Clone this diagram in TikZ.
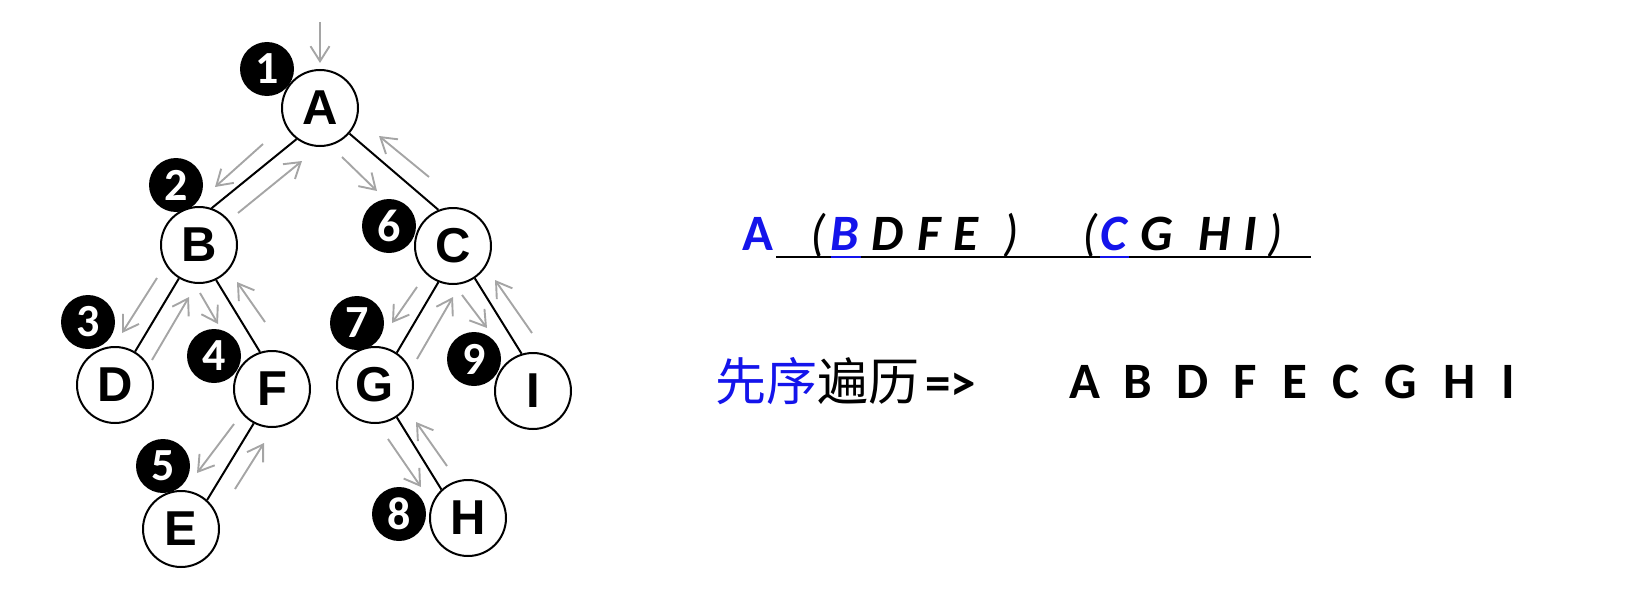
\documentclass[tikz,border=0pt]{standalone}
\usepackage{fontspec}
\setmainfont{Liberation Sans}
\newfontfamily\calib{Carlito}
\newfontfamily\cjk{Noto Sans CJK SC}
\usetikzlibrary{calc,arrows.meta}
\definecolor{tourgray}{RGB}{165,165,165}
\definecolor{pblue}{RGB}{20,20,235}
% \tourarrow{from node}{dx}{dy}{to node}{dx}{dy}
\newcommand{\tourarrow}[6]{%
  \draw[tour] ($(#1)+(#2,#3)$) -- ($(#4)+(#5,#6)$);}
\begin{document}
\begin{tikzpicture}[x=1pt,y=-1pt,
  treenode/.style={circle,draw,line width=2pt,minimum size=76pt,inner sep=0pt,fill=white,
    font=\fontsize{49}{50}\selectfont\bfseries},
  badge/.style={circle,fill=black,minimum size=54pt,inner sep=0pt,text=white,
    font=\calib\fontsize{46}{48}\selectfont\bfseries},
  edge/.style={line width=2pt},
  tour/.style={tourgray,line width=1.9pt,-{Straight Barb[length=15pt,width=19pt]}},
  uprow/.style={inner sep=0pt,anchor=base,font=\calib\fontsize{51}{55}\selectfont\bfseries},
  itrow/.style={inner sep=0pt,anchor=base,font=\calib\fontsize{51}{55}\selectfont\bfseries\itshape},
  parrow/.style={inner sep=0pt,anchor=base,font=\calib\fontsize{51}{55}\selectfont\itshape},
  seqrow/.style={inner sep=0pt,anchor=base,font=\calib\fontsize{51}{55}\selectfont\bfseries},
  uline/.style={line width=2.6pt}
]
\useasboundingbox (0,0) rectangle (1629,594);
% badges
\node[badge] (n1) at (267,69) {1};
\node[badge] (n2) at (176,185) {2};
\node[badge] (n3) at (88,322) {3};
\node[badge] (n4) at (214,356) {4};
\node[badge] (n5) at (163,466) {5};
\node[badge] (n6) at (389,226) {6};
\node[badge] (n7) at (357,323) {7};
\node[badge] (n8) at (399,514) {8};
\node[badge] (n9) at (474,359) {9};
% tree nodes
\node[treenode] (A) at (320,108) {A};
\node[treenode] (B) at (199,245) {B};
\node[treenode] (C) at (453,246) {C};
\node[treenode] (D) at (115,385) {D};
\node[treenode] (F) at (272,389) {F};
\node[treenode] (G) at (375,385) {G};
\node[treenode] (I) at (533,391) {I};
\node[treenode] (E) at (181,529) {E};
\node[treenode] (H) at (468,518) {H};
% edges
\draw[edge] (A.233) -- (B.71);
\draw[edge] (A.-41) -- (C.112);
\draw[edge] (B.239) -- (D.59);
\draw[edge] (B.-64) -- (F.108);
\draw[edge] (F.242) -- (E.48);
\draw[edge] (C.248) -- (G.56);
\draw[edge] (C.-56) -- (I.107);
\draw[edge] (G.-56) -- (H.133);
% traversal arrows
\coordinate (start) at (320,22);
\draw[tour] (start) -- ($(A)+(0,-45)$);
\tourarrow{A}{-57}{36}{B}{16}{-58}
\tourarrow{B}{39}{-32}{A}{-18}{53}
\tourarrow{B}{-42}{33}{D}{7}{-52}
\tourarrow{D}{37}{-25}{B}{-10}{52}
\tourarrow{B}{1}{48}{F}{-54}{-65}
\tourarrow{F}{-38}{35}{E}{16}{-56}
\tourarrow{E}{54}{-40}{F}{-8}{54}
\tourarrow{F}{-7}{-67}{B}{38}{37}
\tourarrow{A}{22}{49}{C}{-76}{-55}
\tourarrow{C}{-36}{41}{G}{17}{-62}
\tourarrow{G}{13}{54}{H}{-47}{-31}
\tourarrow{H}{-21}{-52}{G}{41}{37}
\tourarrow{G}{42}{-26}{C}{0}{51}
\tourarrow{C}{9}{49}{I}{-46}{-63}
\tourarrow{I}{-1}{-58}{C}{42}{34}
\tourarrow{C}{-24}{-69}{A}{59}{28}
% top row
\node[uprow,text=pblue] (tA) at (758,250) {A};
\node[parrow] (lp1) at (818,250) {(};
\node[itrow,text=pblue] (tB) at (845,250) {B};
\node[itrow] (tD) at (888,250) {D};
\node[itrow] (tF) at (929,250) {F};
\node[itrow] (tE) at (966,250) {E};
\node[parrow] (rp1) at (1011,250) {)};
\node[parrow] (lp2) at (1090,250) {(};
\node[itrow,text=pblue] (tC) at (1114,250) {C};
\node[itrow] (tG) at (1157,250) {G};
\node[itrow] (tH) at (1215,250) {H};
\node[itrow] (tI) at (1250,250) {I};
\node[parrow] (rp2) at (1275,250) {)};
\coordinate (u0) at (776,257);
\coordinate (u1) at (1311,257);
\coordinate (b0) at (831,257);
\coordinate (b1) at (861,257);
\coordinate (c0) at (1100,257);
\coordinate (c1) at (1129,257);
\draw[uline] (u0) -- (u1);
\draw[uline,pblue] (b0) -- (b1);
\draw[uline,pblue] (c0) -- (c1);
% bottom row
\node[inner sep=0pt,anchor=base west,font=\cjk\fontsize{51}{55}\selectfont] (cn) at (715,400)
  {\textcolor{pblue}{先序}遍历\hspace{6pt}{\calib\bfseries =>}};
\foreach \t/\x [count=\i] in {A/1085,B/1138,D/1193,F/1245,E/1295,C/1346,G/1401,H/1460,I/1508}
  \node[seqrow] (s\i) at (\x,398) {\t};
\end{tikzpicture}
\end{document}
